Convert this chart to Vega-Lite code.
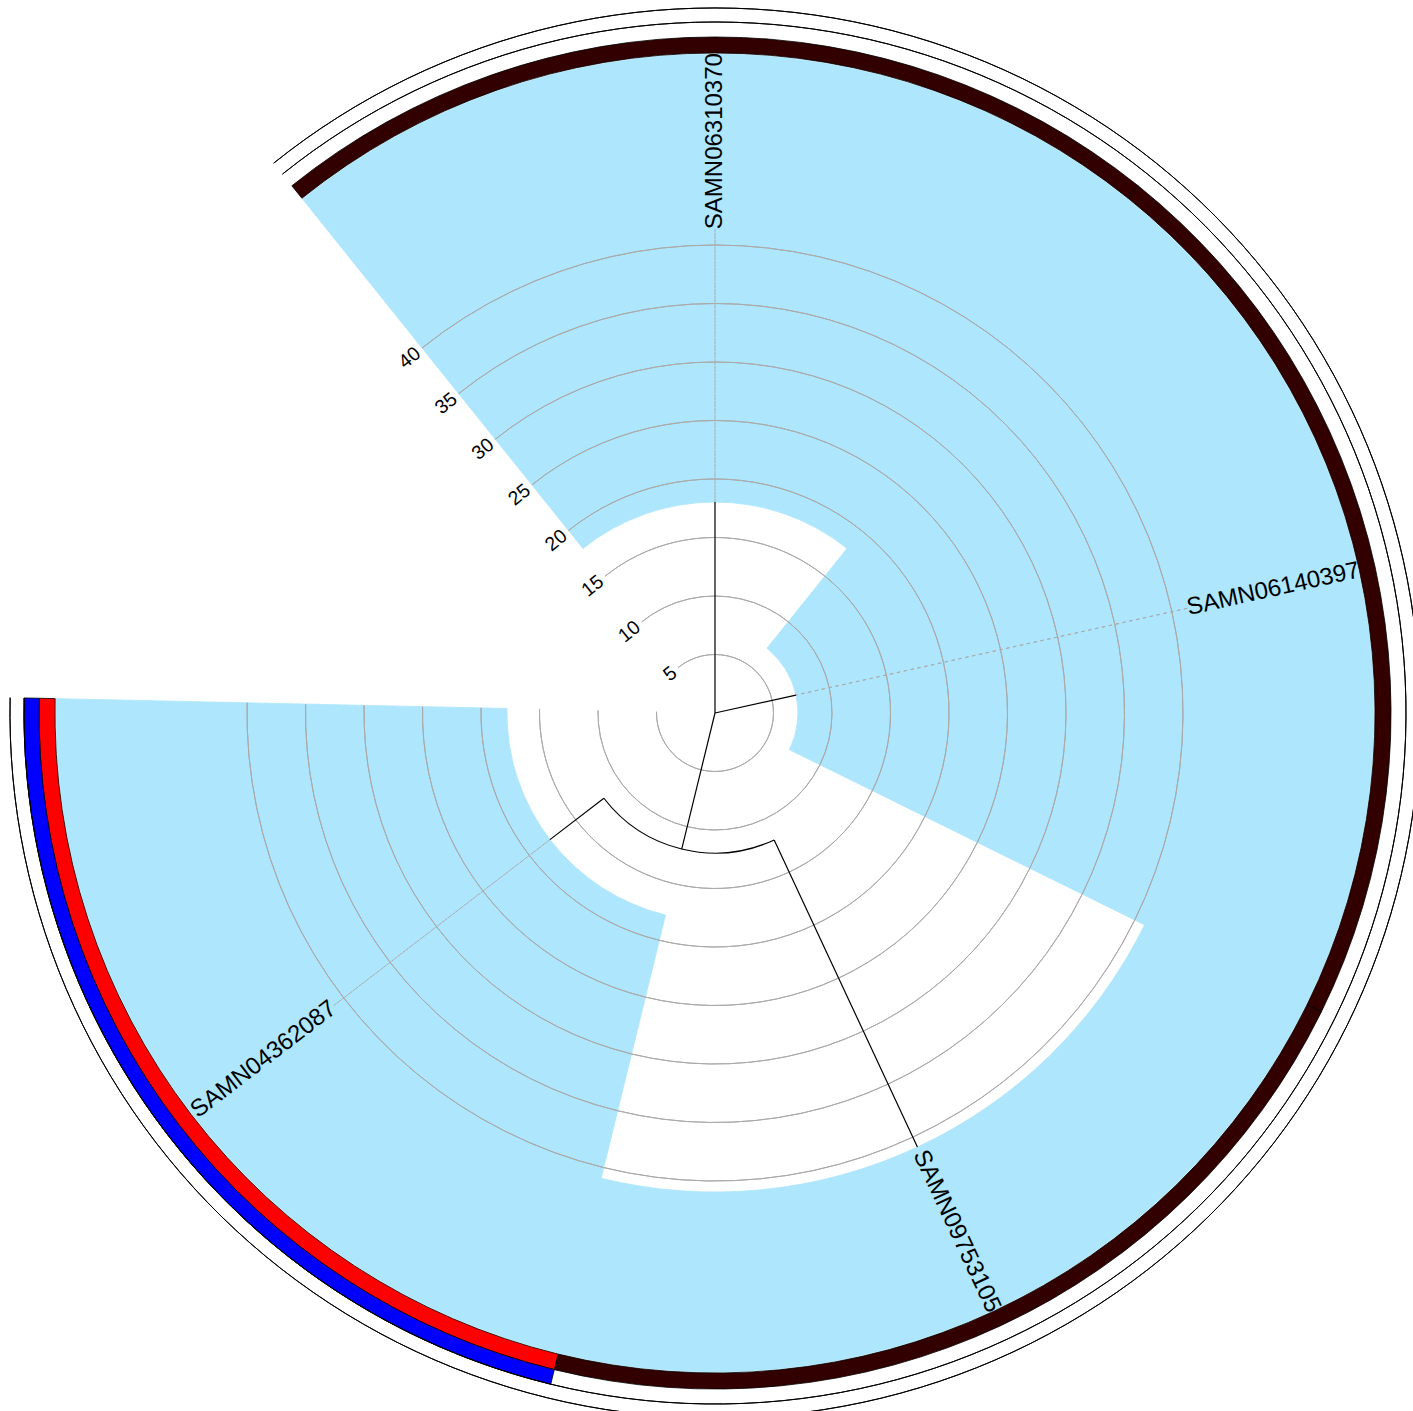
{
  "$schema": "https://vega.github.io/schema/vega-lite/v6.json",
  "width": 1396,
  "height": 1396,
  "padding": {"left": 17, "top": 15, "right": 0, "bottom": 0},
  "autosize": {"type": "none"},
  "background": "white",
  "config": {"view": {"stroke": null}, "font": "Liberation Sans"},
  "datasets": {
    "leaves": [
      {"id": "SAMN06310370", "angle": 0, "dist": 18.03, "start": -38.75, "end": 38.75, "outer": 56.32, "labelr": 41.35},
      {"id": "SAMN06140397", "angle": 77.5, "dist": 7.09, "start": 38.75, "end": 116.25, "outer": 56.32, "labelr": 41.35},
      {"id": "SAMN09753105", "angle": 155, "dist": 40.94, "start": 116.25, "end": 193.75, "outer": 56.32, "labelr": 41.35},
      {"id": "SAMN04362087", "angle": 232.5, "dist": 17.78, "start": 193.75, "end": 271.25, "outer": 56.32, "labelr": 41.1}
    ],
    "rings": [
      {"start": -38.75, "end": 38.75, "r0": 56.41, "r1": 57.78, "category": "A"},
      {"start": 38.75, "end": 116.25, "r0": 56.41, "r1": 57.78, "category": "A"},
      {"start": 116.25, "end": 193.75, "r0": 56.41, "r1": 57.78, "category": "A"},
      {"start": 193.75, "end": 271.25, "r0": 56.41, "r1": 57.78, "category": "B"},
      {"start": 193.75, "end": 271.25, "r0": 57.78, "r1": 59.06, "category": "C"}
    ],
    "outlines": [
      {"r": 59.06, "t0": -38.75, "t1": 271.25},
      {"r": 60.26, "t0": -38.75, "t1": 271.25}
    ],
    "grid": [
      {"r": 5, "t0": -38.75, "t1": 271.25},
      {"r": 10, "t0": -38.75, "t1": 271.25},
      {"r": 15, "t0": -38.75, "t1": 271.25},
      {"r": 20, "t0": -38.75, "t1": 271.25},
      {"r": 25, "t0": -38.75, "t1": 271.25},
      {"r": 30, "t0": -38.75, "t1": 271.25},
      {"r": 35, "t0": -38.75, "t1": 271.25},
      {"r": 40, "t0": -38.75, "t1": 271.25}
    ],
    "branches": [
      {"a0": 0, "a1": 0, "r0": 0, "r1": 18.03},
      {"a0": 77.5, "a1": 77.5, "r0": 0, "r1": 7.09},
      {"a0": 193.75, "a1": 193.75, "r0": 0, "r1": 11.97},
      {"a0": 155, "a1": 232.5, "r0": 11.97, "r1": 11.97},
      {"a0": 155, "a1": 155, "r0": 11.97, "r1": 40.94},
      {"a0": 232.5, "a1": 232.5, "r0": 11.97, "r1": 17.78}
    ]
  },
  "resolve": {"scale": {"angle": "independent", "color": "independent"}},
  "layer": [
    {
      "data": {"name": "leaves"},
      "mark": {"type": "arc", "fill": "#ade6fd", "stroke": "#ade6fd", "strokeWidth": 0.8},
      "encoding": {
        "theta": {"field": "start", "type": "quantitative", "stack": null, "scale": {"type": "linear", "domain": [0, 360], "range": [0, 6.283185307], "zero": false, "nice": false}},
        "theta2": {"field": "end"},
        "radius": {"field": "outer", "type": "quantitative", "stack": null, "scale": {"type": "linear", "domain": [0, 60], "range": [0, 702], "zero": true, "nice": false}},
        "radius2": {"field": "dist"}
      }
    },
    {
      "data": {"name": "grid"},
      "mark": {"type": "arc", "filled": false, "stroke": "#aaaaaa", "strokeWidth": 1},
      "encoding": {
        "theta": {"field": "t0", "type": "quantitative", "stack": null, "scale": {"type": "linear", "domain": [0, 360], "range": [0, 6.283185307], "zero": false, "nice": false}},
        "theta2": {"field": "t1"},
        "radius": {"field": "r", "type": "quantitative", "stack": null, "scale": {"type": "linear", "domain": [0, 60], "range": [0, 702], "zero": true, "nice": false}},
        "radius2": {"field": "r"}
      }
    },
    {
      "data": {"name": "rings"},
      "mark": {"type": "arc", "stroke": "#000000", "strokeWidth": 0.8},
      "encoding": {
        "theta": {"field": "start", "type": "quantitative", "stack": null, "scale": {"type": "linear", "domain": [0, 360], "range": [0, 6.283185307], "zero": false, "nice": false}},
        "theta2": {"field": "end"},
        "radius": {"field": "r1", "type": "quantitative", "stack": null, "scale": {"type": "linear", "domain": [0, 60], "range": [0, 702], "zero": true, "nice": false}},
        "radius2": {"field": "r0"},
        "color": {"field": "category", "type": "nominal", "legend": null, "scale": {"domain": ["A", "B", "C"], "range": ["#330000", "#ff0000", "#0000ff"]}}
      }
    },
    {
      "data": {"name": "outlines"},
      "mark": {"type": "arc", "filled": false, "stroke": "#000000", "strokeWidth": 1},
      "encoding": {
        "theta": {"field": "t0", "type": "quantitative", "stack": null, "scale": {"type": "linear", "domain": [0, 360], "range": [0, 6.283185307], "zero": false, "nice": false}},
        "theta2": {"field": "t1"},
        "radius": {"field": "r", "type": "quantitative", "stack": null, "scale": {"type": "linear", "domain": [0, 60], "range": [0, 702], "zero": true, "nice": false}},
        "radius2": {"field": "r"}
      }
    },
    {
      "data": {"name": "leaves"},
      "transform": [{"filter": "datum.dist < 40"}],
      "mark": {"type": "arc", "filled": false, "stroke": "#aaaaaa", "strokeWidth": 1, "strokeDash": [3, 4]},
      "encoding": {
        "theta": {"field": "angle", "type": "quantitative", "stack": null, "scale": {"type": "linear", "domain": [0, 360], "range": [0, 6.283185307], "zero": false, "nice": false}},
        "theta2": {"field": "angle"},
        "radius": {"field": "labelr", "type": "quantitative", "stack": null, "scale": {"type": "linear", "domain": [0, 60], "range": [0, 702], "zero": true, "nice": false}},
        "radius2": {"field": "dist"}
      }
    },
    {
      "data": {"name": "branches"},
      "mark": {"type": "arc", "filled": false, "stroke": "#000000", "strokeWidth": 1.2},
      "encoding": {
        "theta": {"field": "a0", "type": "quantitative", "stack": null, "scale": {"type": "linear", "domain": [0, 360], "range": [0, 6.283185307], "zero": false, "nice": false}},
        "theta2": {"field": "a1"},
        "radius": {"field": "r1", "type": "quantitative", "stack": null, "scale": {"type": "linear", "domain": [0, 60], "range": [0, 702], "zero": true, "nice": false}},
        "radius2": {"field": "r0"}
      }
    },
    {
      "data": {"name": "grid"},
      "mark": {"type": "text", "align": "right", "baseline": "middle", "angle": 321.25, "dx": -5, "fontSize": 19.5, "color": "#000000"},
      "encoding": {
        "theta": {"field": "t0", "type": "quantitative", "stack": null, "scale": {"type": "linear", "domain": [0, 360], "range": [0, 6.283185307], "zero": false, "nice": false}},
        "radius": {"field": "r", "type": "quantitative", "stack": null, "scale": {"type": "linear", "domain": [0, 60], "range": [0, 702], "zero": true, "nice": false}},
        "text": {"field": "r", "type": "quantitative"}
      }
    },
    {
      "data": {"name": "leaves"},
      "transform": [{"filter": "datum.angle < 180"}],
      "mark": {"type": "text", "align": "left", "baseline": "middle", "fontSize": 24, "color": "#000000"},
      "encoding": {
        "theta": {"field": "angle", "type": "quantitative", "stack": null, "scale": {"type": "linear", "domain": [0, 360], "range": [0, 6.283185307], "zero": false, "nice": false}},
        "radius": {"field": "labelr", "type": "quantitative", "stack": null, "scale": {"type": "linear", "domain": [0, 60], "range": [0, 702], "zero": true, "nice": false}},
        "angle": {"field": "angle", "type": "quantitative", "legend": null, "scale": {"type": "linear", "domain": [0, 360], "range": [-90, 270], "zero": false, "nice": false}},
        "text": {"field": "id", "type": "nominal"}
      }
    },
    {
      "data": {"name": "leaves"},
      "transform": [{"filter": "datum.angle >= 180"}],
      "mark": {"type": "text", "align": "right", "baseline": "middle", "fontSize": 24, "color": "#000000"},
      "encoding": {
        "theta": {"field": "angle", "type": "quantitative", "stack": null, "scale": {"type": "linear", "domain": [0, 360], "range": [0, 6.283185307], "zero": false, "nice": false}},
        "radius": {"field": "labelr", "type": "quantitative", "stack": null, "scale": {"type": "linear", "domain": [0, 60], "range": [0, 702], "zero": true, "nice": false}},
        "angle": {"field": "angle", "type": "quantitative", "legend": null, "scale": {"type": "linear", "domain": [0, 360], "range": [-270, 90], "zero": false, "nice": false}},
        "text": {"field": "id", "type": "nominal"}
      }
    }
  ]
}
